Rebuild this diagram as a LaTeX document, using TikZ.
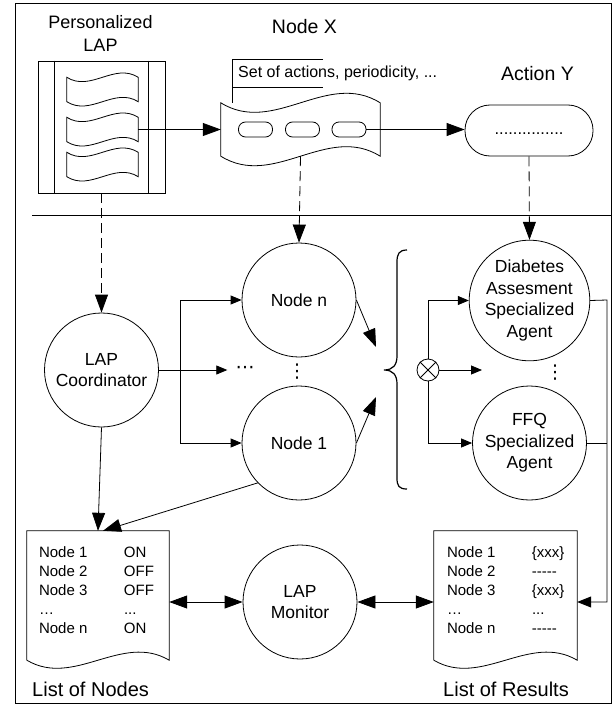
\documentclass[tikz,border=0pt]{standalone}
\usepackage{fontspec}
\setmainfont{Liberation Sans}
\newfontfamily\dotsfont{DejaVu Sans}
\usepackage{tikz}
\usetikzlibrary{arrows.meta,calc,positioning}
\tikzset{
  >={Triangle[length=18pt,width=13pt]},
  lline/.style={line width=0.8pt},
  lflow/.style={->, line width=0.8pt},
  lstep/.style={-{Triangle[length=11pt,width=9pt]}, line width=0.8pt},
  lmid/.style={-{Triangle[length=14pt,width=11pt]}, line width=0.8pt},
  llink/.style={->, dash pattern=on 10pt off 5pt, line width=0.8pt},
  lagent/.style={circle, draw, line width=0.8pt, minimum size=114pt, inner sep=0pt,
                 align=center, font=\fontsize{17.5}{21.5}\selectfont},
  llabel/.style={align=center, font=\fontsize{19.5}{23}\selectfont},
  lcaption/.style={anchor=west, inner sep=0pt, font=\fontsize{20}{23}\selectfont},
  ltable/.style={inner sep=0pt, font=\fontsize{15}{19}\selectfont},
  ldots/.style={inner sep=0pt, font=\dotsfont\fontsize{19}{21}\selectfont},
  lsheet/.style={minimum width=71pt, minimum height=24pt, inner sep=0pt},
  ldoc/.style={minimum width=142pt, minimum height=129pt, inner sep=0pt},
  lpill/.style={draw, line width=0.8pt, rounded corners=7pt, minimum width=34pt,
                minimum height=15pt, inner sep=0pt},
  swave/.style={to path={.. controls ($(\tikztostart)!.333!(\tikztotarget)+(0,{#1})$)
                and ($(\tikztostart)!.667!(\tikztotarget)+(0,{-(#1)})$) .. (\tikztotarget)}},
}

\begin{document}
\begin{tikzpicture}[x=1pt,y=-1pt]
  \useasboundingbox (0,0) rectangle (615,706);
  \draw[line width=1pt] (15,4) rectangle (611,703);
  \draw[lline] (32,215) -- (611,215);

  % personalized LAP
  \node[llabel, font=\fontsize{18}{23}\selectfont] (laplabel) at (100.5,33.5) {Personalized\\LAP};
  \node[draw, line width=0.8pt, minimum width=127pt, minimum height=132pt] (lap) at (101.5,127) {};
  \draw[lline] ([xshift=17pt]lap.north west) -- ([xshift=17pt]lap.south west);
  \draw[lline] ([xshift=-17pt]lap.north east) -- ([xshift=-17pt]lap.south east);
  \foreach \n/\y in {d1/89.5, d2/129.5, d3/164.5} {
    \node[lsheet] (\n) at (102.5,\y) {};
    \draw[lline] (\n.north west) to[swave=15] (\n.north east) -- (\n.south east)
      to[swave=-15] (\n.south west) -- cycle;
  }

  % node X
  \node[llabel] (nxlabel) at (304.5,27) {Node X};
  \node[minimum width=159pt, minimum height=53pt, inner sep=0pt] (tape) at (300.5,129.5) {};
  \draw[lline] (tape.north west) to[swave=33] (tape.north east) -- (tape.south east)
    to[swave=-33] (tape.south west) -- cycle;
  \node[lpill] (p1) at (255.5,129.5) {};
  \node[lpill] (p2) at (302.5,129.5) {};
  \node[lpill] (p3) at (349,129.5) {};
  \node[anchor=west, minimum height=27pt, inner xsep=6pt, inner ysep=0pt,
        font=\fontsize{16}{19}\selectfont] (note) at (232,73.5) {Set of actions, periodicity, ...};
  \draw[lline] ([xshift=91pt]note.north west) -- (note.north west) -- (note.south west |- tape.north);
  \draw[lline] (note.south west) -- ([xshift=91pt]note.south west);

  % action Y
  \node[llabel] (aylabel) at (537.5,74) {Action Y};
  \node[draw, line width=0.8pt, rounded corners=25pt, minimum width=128pt, minimum height=51pt,
        font=\fontsize{16.5}{21}\selectfont] (act) at (529,130.5) {\strut...............};

  \draw[lflow] (d2.east) -- (tape.west);
  \draw[lflow] (p3.east) -- (act.west |- p3.east);

  % agents
  \node[lagent] (coord) at (101.5,370) {LAP\\Coordinator};
  \node[lagent] (noden) at (299,300) {Node n};
  \node[lagent] (node1) at (299,443) {Node 1};
  \node[lagent] (diab) at (529.5,300.5) {Diabetes\\Assesment\\Specialized\\Agent};
  \node[lagent] (ffq) at (529.5,443) {FFQ\\Specialized\\Agent};
  \node[lagent] (mon) at (300,602) {LAP\\Monitor};
  \node[ldots, inner xsep=8pt] (hdots) at (245,370) {⋯};
  \node[ldots] (vdn) at (297,372) {⋮};
  \node[ldots] (vda) at (555,373) {⋮};

  \draw[llink] (lap.south) -- (coord.north);
  \draw[llink] (tape.south) -- (noden.north);
  \draw[llink] (act.south) -- (diab.north);

  \draw[lstep] (coord.east) -- ++(21.5,0) |- (noden.west);
  \draw[lstep] (coord.east) -- ++(21.5,0) |- (node1.west);
  \draw[lstep] (coord.east) -- (hdots.west);

  % brace and selector
  \coordinate (bup) at (376,347);
  \coordinate (bdn) at (376,397);
  \draw[lflow] (noden.east) -- (bup);
  \draw[lflow] (node1.east) -- (bdn);
  \draw[line width=1.2pt] (407,250) .. controls (399,250) and (397,254) .. (397,262) -- (397,356)
    .. controls (397,365) and (393,370) .. (384,370)
    .. controls (393,370) and (397,375) .. (397,384) -- (397,478)
    .. controls (397,486) and (399,489) .. (407,489);
  \node[draw, circle, line width=0.8pt, minimum size=22pt, inner sep=0pt] (xor) at (428,370) {};
  \draw[lline] (xor.45) -- (xor.225) (xor.135) -- (xor.315);
  \coordinate (xout) at (482,370);
  \draw[lstep] (xor.north) |- (diab.west);
  \draw[lstep] (xor.south) |- (ffq.west);
  \draw[lstep] (xor.east) -- (xout);

  % lists
  \node[ldoc] (nodelist) at (98,595.5) {};
  \node[ldoc, minimum width=143pt] (reslist) at (505.5,595.5) {};
  \foreach \n in {nodelist, reslist}
    \draw[lline] (\n.south west) |- (\n.north east) -- (\n.south east) to[swave=-28] (\n.south west);
  \node[ltable, below right=13pt and 12pt of nodelist.north west] (nodetab) {%
    \begin{tabular}{@{}p{85pt}@{}l@{}}
      Node 1 & ON\\ Node 2 & OFF\\ Node 3 & OFF\\ … & ...\\ Node n & ON
    \end{tabular}};
  \node[ltable, below right=13pt and 13pt of reslist.north west] (restab) {%
    \begin{tabular}{@{}p{85pt}@{}l@{}}
      Node 1 & \{xxx\}\\ Node 2 & -{}-{}-{}-{}-\\ Node 3 & \{xxx\}\\ … & ...\\ Node n & -{}-{}-{}-{}-
    \end{tabular}};
  \node[lcaption] (nlcap) at (32,689) {List of Nodes};
  \node[lcaption] (rlcap) at (443,689) {List of Results};

  \draw[lflow] (coord.south) -- (nodelist.north);
  \draw[lflow] (node1.224) -- ([xshift=5pt]nodelist.north);
  \draw[<->, line width=0.8pt] (mon.west -| nodelist.east) -- (mon.west);
  \draw[<->, line width=0.8pt] (mon.east) -- (mon.east -| reslist.west);

  % results feedback
  \coordinate (rail) at (607,300);
  \draw[lmid] (diab.east) -- (rail) -- (rail |- mon) -- (mon -| reslist.east);
  \draw[lline] (ffq.east) -- (ffq.east -| rail);
\end{tikzpicture}
\end{document}
